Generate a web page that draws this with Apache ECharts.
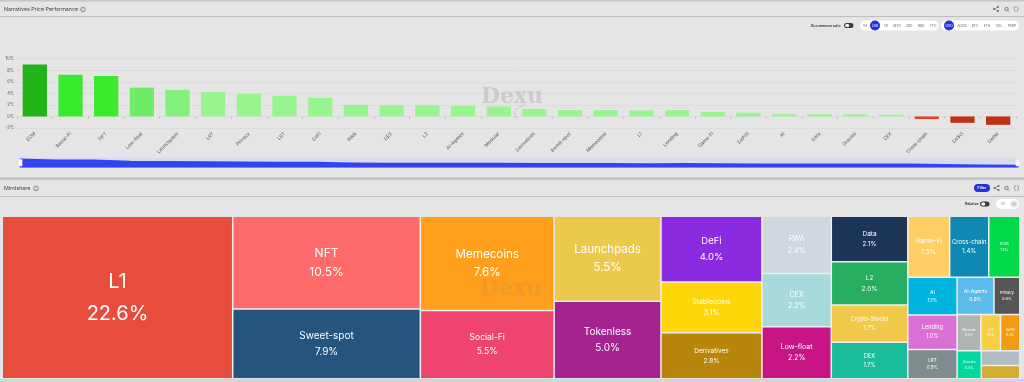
<!DOCTYPE html>
<html><head><meta charset="utf-8">
<style>html,body{margin:0;padding:0;background:#e5e5e5}#c{width:1024px;height:382px}</style>
<script src="https://cdn.jsdelivr.net/npm/echarts@6/dist/echarts.min.js"></script>
</head><body><div id="c"></div>
<script>
const barCategories=['ECM','Social-Fi','NFT','Low-float','Launchpads','LRT','Privacy','LST','DeFi','RWA','DEX','L2','AI-Agents','Modular','Derivatives','Sweet-spot','Memecoins','L1','Lending','Game-Fi','DePIN','AI','Data','Oracles','CEX','Cross-chain','DeSci','DePAI'];
const barValues=[9.0,7.2,7.0,5.0,4.6,4.2,3.9,3.6,3.2,2.0,1.9,1.9,1.8,1.7,1.3,1.1,1.1,1.05,1.1,0.75,0.65,0.45,0.4,0.35,0.3,-0.45,-1.1,-1.45];
const yTicks=[-2,0,2,4,6,8,10];
const treeNames=['L1','NFT','Sweet-spot','Memecoins','Social-Fi','Launchpads','Tokenless','DeFi','Stablecoins','Derivatives','RWA','CEX','Low-float','Data','L2','Crypto-Stocks','DEX','Game-Fi','Cross-chain','ECM','AI','Lending','LRT','AI-Agents','Privacy','Modular','LST','DePIN','Oracles','DeSci','Other'];
const treeValues=[22.6,10.5,7.9,7.6,5.52,5.48,5.0,4.0,3.1,2.8,2.4,2.22,2.18,2.1,2.0,1.72,1.68,1.54,1.44,1.14,1.12,1.03,0.87,0.83,0.58,0.52,0.43,0.42,0.41,0.34,0.31];
const treeColors=['#e74c3c','#ff6b6b','#25557f','#ff9f1c','#ef4370','#ecc94b','#a4238f','#8a2be2','#ffd60a','#b8860b','#cfd8dc','#a8dadc','#c71585','#1d3557','#27ae60','#f0c84a','#1abc9c','#ffcf66','#1088b4','#00d94a','#00b5dd','#da70d6','#7f8c8d','#5bbcec','#555555','#b0b3b3','#f5d040','#f39c12','#00d8a0','#afbcc4','#d4ac30'];
const treeFontSizes=[20,12,10,11.6,8.5,11.5,10,9.5,7,6.5,7,7,7,6.5,6.5,5.5,5.5,6.5,6,4,5,5.5,4.5,5,4,3.5,3,3,3.5,3,3];
const timeButtons=['1H','24H','7D','MTD','30D','90D','YTD'];
const unitButtons=['USD','AI250','BTC','ETH','SOL','PERP'];

function barColor(v){
  if(v<=-1)return '#c03015';
  if(v<0)return '#e0452b';
  if(v>=8)return '#22b316';
  if(v>=6)return '#3aea2c';
  if(v>=4.8)return '#70ec68';
  if(v>=4.4)return '#84f07c';
  return '#98f48f';
}
const treeData=treeNames.map((n,i)=>{
  const fs=treeFontSizes[i];
  return {name:n,value:treeValues[i],itemStyle:{color:treeColors[i]},
    label:{fontSize:fs,lineHeight:fs*1.6}};
});
const hdr='#444';
function txt(x,y,s,size,color,align,weight){return {type:'text',x:x,y:y,silent:true,style:{text:s,fontSize:size,fill:color||hdr,align:align||'center',verticalAlign:'middle',fontFamily:'Inter',fontWeight:weight||400}};}
function rect(x,y,w,h,fill,r,stroke){return {type:'rect',silent:true,shape:{x:x,y:y,width:w,height:h,r:r||0},style:{fill:fill,stroke:stroke||null,lineWidth:stroke?1:0}};}
function info(x,y){return [{type:'circle',silent:true,shape:{cx:x,cy:y,r:2.3},style:{fill:'none',stroke:'#666',lineWidth:0.7}},txt(x,y,'i',3.5,'#555')];}
function icons(x1,x2,x3,y){return [
 {type:'circle',silent:true,shape:{cx:x1+2,cy:y-2,r:1},style:{fill:'#666'}},
 {type:'circle',silent:true,shape:{cx:x1+2,cy:y+2,r:1},style:{fill:'#666'}},
 {type:'circle',silent:true,shape:{cx:x1-2,cy:y,r:1},style:{fill:'#666'}},
 {type:'polyline',silent:true,shape:{points:[[x1+2,y-2],[x1-2,y],[x1+2,y+2]]},style:{fill:'none',stroke:'#666',lineWidth:0.6}},
 {type:'circle',silent:true,shape:{cx:x2,cy:y,r:1.7},style:{fill:'none',stroke:'#666',lineWidth:0.8}},
 {type:'line',silent:true,shape:{x1:x2+1.2,y1:y+1.2,x2:x2+2.6,y2:y+2.6},style:{stroke:'#666',lineWidth:0.8}},
 {type:'rect',silent:true,shape:{x:x3-2,y:y-2,width:4,height:4},style:{fill:'none',stroke:'#777',lineWidth:0.8,lineDash:[1.6,1]}}
];}
function toggle(x,y){return [rect(x,y-2.5,9.5,5,'#3a3d42',2.5),rect(x+1.2,y-1.5,4,3,'#fff',1.5)];}
function mark(cx,cy,alpha){return [
  {type:'text',z:50,silent:true,x:cx,y:cy,style:{text:'Dexu',fontSize:22,fontWeight:700,fontFamily:'DejaVu Serif',fill:'rgba(120,120,120,'+alpha+')',align:'center',verticalAlign:'middle'}},
  {type:'polyline',z:50,silent:true,shape:{points:[[cx+13,cy+7],[cx+3,cy+13],[cx+3,cy+20]]},style:{fill:'none',stroke:'rgba(120,120,120,'+(alpha*0.6)+')',lineWidth:1.6}}
];}

const timeX=[865,875,886,897,909,921,933];
const unitX=[949,962,975,987,999,1012];
const graphic=[
  rect(0,0,1024,1.6,'#c6c6c6'),
  rect(0,16,1024,1,'#bdbdbd'),
  rect(0,177,1024,3,'#c8c8c8'),
  rect(0,196,1024,1,'#bdbdbd'),
  rect(0,379,1024,3,'#d4d4d4'),
  txt(4,9.5,'Narratives Price Performance',5.3,hdr,'left'),
  ...info(83,9.5),
  txt(4,188.5,'Mindshare',5.3,hdr,'left'),
  ...info(36,188.5),
  ...icons(996,1006.5,1016,9),
  ...icons(996.5,1006.5,1016.5,188),
  txt(811,25.5,'Occurrences ratio',3.4,'#222','left',600),
  ...toggle(844,25.5),
  rect(860,20.5,79,10,'#fff',5),
  rect(941,20.5,78,10,'#fff',5),
  {type:'circle',silent:true,shape:{cx:875,cy:25.5,r:5},style:{fill:'#2433e0'}},
  {type:'circle',silent:true,shape:{cx:949,cy:25.5,r:5},style:{fill:'#2433e0'}},
  ...timeButtons.map((b,i)=>txt(timeX[i],25.5,b,3.4,i===1?'#fff':'#666')),
  ...unitButtons.map((b,i)=>txt(unitX[i],25.5,b,3.4,i===0?'#fff':'#666')),
  rect(974,184,16,8,'#2433e0',4),
  txt(982,188,'Filter',3.6,'#fff','center',600),
  txt(965,204,'Relative',3.5,'#222','left',600),
  ...toggle(980,204),
  rect(996,199,23,10,'#fff',5),
  txt(1003,204,'1D',3.4,'#777'),
  {type:'circle',silent:true,shape:{cx:1014,cy:204,r:3.6},style:{fill:'#e2e2e2'}},
  {type:'polyline',silent:true,shape:{points:[[1012.5,203.3],[1014,204.8],[1015.5,203.3]]},style:{fill:'none',stroke:'#777',lineWidth:0.6}},
  ...mark(512,97,0.22),
  ...mark(511,289,0.12)
];

const chart=echarts.init(document.getElementById('c'),null,{renderer:'canvas'});
chart.setOption({
  animation:false,
  backgroundColor:'#e5e5e5',
  textStyle:{fontFamily:'Inter'},
  grid:{left:17,right:8,top:58.7,height:69.3,containLabel:false},
  xAxis:{type:'category',data:barCategories,
    axisLine:{lineStyle:{color:'#dcdcdc',width:1}},
    axisTick:{show:true,length:2,lineStyle:{color:'#aaa',width:0.7}},
    axisLabel:{rotate:45,fontSize:4.8,color:'#555',interval:0,margin:5}},
  yAxis:{type:'value',min:yTicks[0],max:yTicks[yTicks.length-1],interval:2,
    axisLine:{show:false},axisTick:{show:false},
    axisLabel:{fontSize:4.2,color:'#555',margin:3,formatter:v=>v+'%'},
    splitLine:{lineStyle:{color:'#dcdcdc',width:1}}},
  dataZoom:[{type:'slider',xAxisIndex:0,start:0,end:100,left:17,right:8,top:157,height:10,
    showDetail:false,borderColor:'transparent',backgroundColor:'#d5dcec',
    fillerColor:'rgba(0,0,0,0)',
    dataBackground:{lineStyle:{color:'#3344ee',width:2.2},areaStyle:{color:'#3344ee',opacity:1}},
    selectedDataBackground:{lineStyle:{color:'#3344ee',width:2.2},areaStyle:{color:'#3344ee',opacity:1}},
    handleIcon:'path://M0,0 L5,0 L5,10 L0,10 Z',handleSize:'65%',
    handleStyle:{color:'#fff',borderColor:'#eee',borderWidth:0.5},
    moveHandleSize:0,brushSelect:false}],
  series:[
    {type:'bar',data:barValues.map(v=>({value:v,itemStyle:{color:barColor(v)}})),barWidth:'68%'},
    {type:'treemap',left:3,right:5,top:217,bottom:4,roam:false,nodeClick:false,
      breadcrumb:{show:false},squareRatio:0.5*(1+Math.sqrt(5)),
      label:{show:true,position:'inside',align:'center',verticalAlign:'middle',color:'#fff',fontFamily:'Inter',overflow:'none',
        formatter:p=>p.name+'\n'+p.value.toFixed(1)+'%'},
      itemStyle:{borderWidth:0,gapWidth:2,borderColor:'#f0f0f0'},
      levels:[{itemStyle:{gapWidth:1.5,borderWidth:0}}],
      data:treeData}
  ],
  graphic:{elements:graphic}
});
</script></body></html>
